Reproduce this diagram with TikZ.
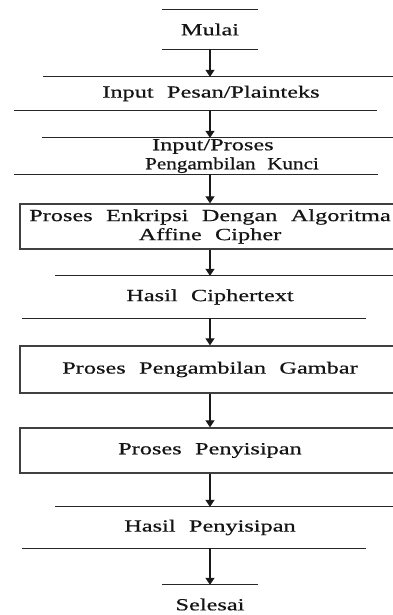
\documentclass[tikz,border=0pt]{standalone}
\usepackage{graphicx}
\usepackage{fontspec}
\setmainfont[FakeStretch=1.43,WordSpace=2.2,FakeBold=0.6]{Liberation Serif}
\usetikzlibrary{arrows.meta}

\begin{document}
\begin{tikzpicture}[x=1pt,y=-1pt,
  lbl/.style={font=\fontsize{17}{19}\selectfont, inner sep=0pt, align=center, text=black!92},
  ioshape/.style={lbl, minimum width=20, minimum height=#1},
  procbox/.style={lbl, draw=black!75, line width=1.4pt, minimum width=380, minimum height=#1},
  rule/.style={line width=1.1pt, black!85},
  flow/.style={line width=1.1pt, black!90, -{Triangle[width=9pt,length=7pt]}}]

\useasboundingbox (0,0) rectangle (393,615);
\clip (0,0) rectangle (393,615);

% terminators and input/output steps
\node[ioshape=39] (start)  at (210,29.5)  {Mulai};
\node[ioshape=33] (plain)  at (211,93.5)  {Input Pesan/Plainteks};
\node[ioshape=36, align=left] (key) at (210,156)
  {\hspace*{51pt}Input/Proses\\\hspace*{44pt}\scalebox{0.87}[1]{Pengambilan Kunci}};
\node[procbox=45] (enc)    at (210,226.5) {Proses Enkripsi Dengan Algoritma\\Affine Cipher};
\node[ioshape=42] (cipher) at (210,297)   {Hasil Ciphertext};
\node[procbox=47] (img)    at (210,369.5) {Proses Pengambilan Gambar};
\node[procbox=45] (embed)  at (210,450.5) {Proses Penyisipan};
\node[ioshape=41] (result) at (210,527.5) {Hasil Penyisipan};
\node[ioshape=39] (finish) at (210,604.5) {Selesai};

% top and bottom rules of the open shapes
\draw[rule] ([xshift=-48pt]start.north) -- ([xshift=48pt]start.north);
\draw[rule] ([xshift=-48pt]start.south) -- ([xshift=48pt]start.south);
\draw[rule] ([xshift=-168pt]plain.north) -- ([xshift=190pt]plain.north);
\draw[rule] ([xshift=-197pt]plain.south) -- ([xshift=166pt]plain.south);
\draw[rule] ([xshift=-168pt]key.north) -- ([xshift=190pt]key.north);
\draw[rule] ([xshift=-196pt]key.south) -- ([xshift=168pt]key.south);
\draw[rule] ([xshift=-155pt]cipher.north) -- ([xshift=190pt]cipher.north);
\draw[rule] ([xshift=-188pt]cipher.south) -- ([xshift=156pt]cipher.south);
\draw[rule] ([xshift=-155pt]result.north) -- ([xshift=190pt]result.north);
\draw[rule] ([xshift=-188pt]result.south) -- ([xshift=156pt]result.south);
\draw[rule] ([xshift=-48pt]finish.north) -- ([xshift=48pt]finish.north);

% flow
\draw[flow] (start.south)  -- (start.south |- plain.north);
\draw[flow] (start.south |- plain.south) -- (key.north);
\draw[flow] (key.south)    -- (enc.north);
\draw[flow] (enc.south)    -- (cipher.north);
\draw[flow] (cipher.south) -- (img.north);
\draw[flow] (img.south)    -- (embed.north);
\draw[flow] (embed.south)  -- (result.north);
\draw[flow] (result.south) -- (finish.north);
\end{tikzpicture}
\end{document}
